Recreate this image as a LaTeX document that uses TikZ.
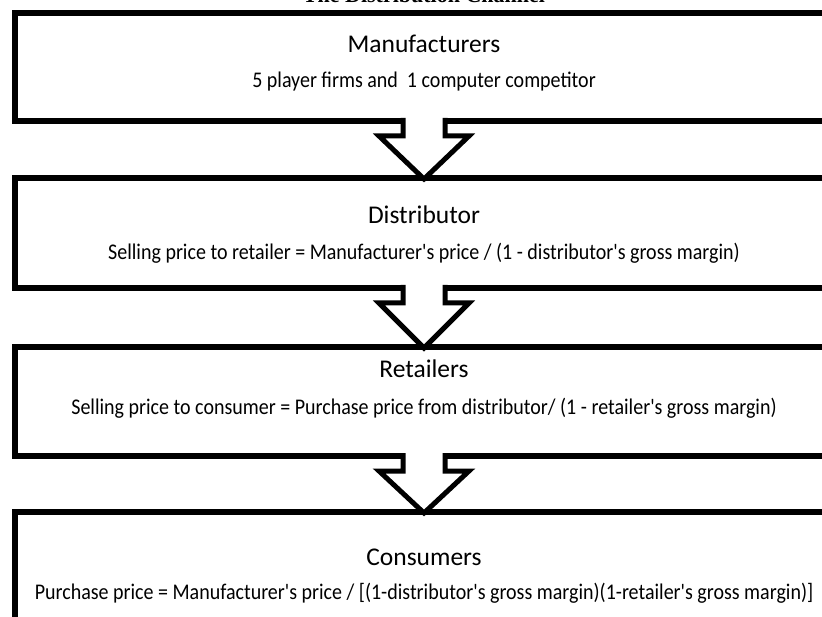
\documentclass[tikz,border=0pt]{standalone}
\usepackage{fontspec}
\setmainfont{Carlito}
\newfontfamily\titlefont{Liberation Serif}
\usetikzlibrary{calc,shadows}

\begin{document}
\begin{tikzpicture}[x=1pt, y=-1pt,
    stagebox/.style={draw, line width=6pt, fill=white, anchor=north west,
      minimum width=818pt, minimum height=#1, inner sep=0pt, outer sep=0pt,
      drop shadow={opacity=0.3, shadow xshift=1pt, shadow yshift=-3pt}},
    headtext/.style={font=\fontsize{25.5}{28}\selectfont, anchor=base, inner sep=0pt},
    bodytext/.style={font=\fontsize{20}{24}\selectfont, anchor=base, inner sep=0pt, yscale=1.12},
    flowarrow/.style={draw, line width=5pt, line join=miter}]
    \clip (0,0) rectangle (822,617);

    \node [font=\titlefont\bfseries\fontsize{22}{24}\selectfont, anchor=base] (title) at (424,3) {The Distribution Channel};

    % the four stages of the channel
    \node [stagebox=108pt] (mfr) at (15,13) {};
    \node [stagebox=110pt] (dist) at (15,178) {};
    \node [stagebox=109pt] (ret) at (15,347) {};
    \node [stagebox=200pt] (cons) at (15,512) {};

    \node [headtext] (mfrhead) at ($(mfr.north)+(0,40)$) {Manufacturers};
    \node [bodytext] (mfrbody) at ($(mfr.north)+(0,75)$) {5 player firms and~ 1 computer competitor};
    \node [headtext] (disthead) at ($(dist.north)+(0,46)$) {Distributor};
    \node [bodytext] (distbody) at ($(dist.north)+(0,82)$) {Selling price to retailer = Manufacturer\textquotesingle s price / (1 - distributor\textquotesingle s gross margin)};
    \node [headtext] (rethead) at ($(ret.north)+(0,31)$) {Retailers};
    \node [bodytext] (retbody) at ($(ret.north)+(0,67)$) {Selling price to consumer = Purchase price from distributor/ (1 - retailer\textquotesingle s gross margin)};
    \node [headtext] (conshead) at ($(cons.north)+(0,53)$) {Consumers};
    \node [bodytext] (consbody) at ($(cons.north)+(0,87)$) {Purchase price = Manufacturer\textquotesingle s price / [(1-distributor\textquotesingle s gross margin)(1-retailer\textquotesingle s gross margin)]};

    % block arrows between the stages
    \foreach \from/\to in {mfr/dist, dist/ret, ret/cons} {
      \fill [white] ($(\from.south)+(-21,-4)$) -- ($(\from.south)+(-21,15)$) -- ($(\from.south)+(-45,15)$)
        -- ($(\to.north)+(0,1)$) -- ($(\from.south)+(45,15)$) -- ($(\from.south)+(21,15)$) -- ($(\from.south)+(21,-4)$) -- cycle;
      \draw [flowarrow] ($(\from.south)+(-21,-3)$) -- ($(\from.south)+(-21,15)$) -- ($(\from.south)+(-45,15)$)
        -- ($(\to.north)+(0,1)$) -- ($(\from.south)+(45,15)$) -- ($(\from.south)+(21,15)$) -- ($(\from.south)+(21,-3)$);
    }
\end{tikzpicture}
\end{document}
